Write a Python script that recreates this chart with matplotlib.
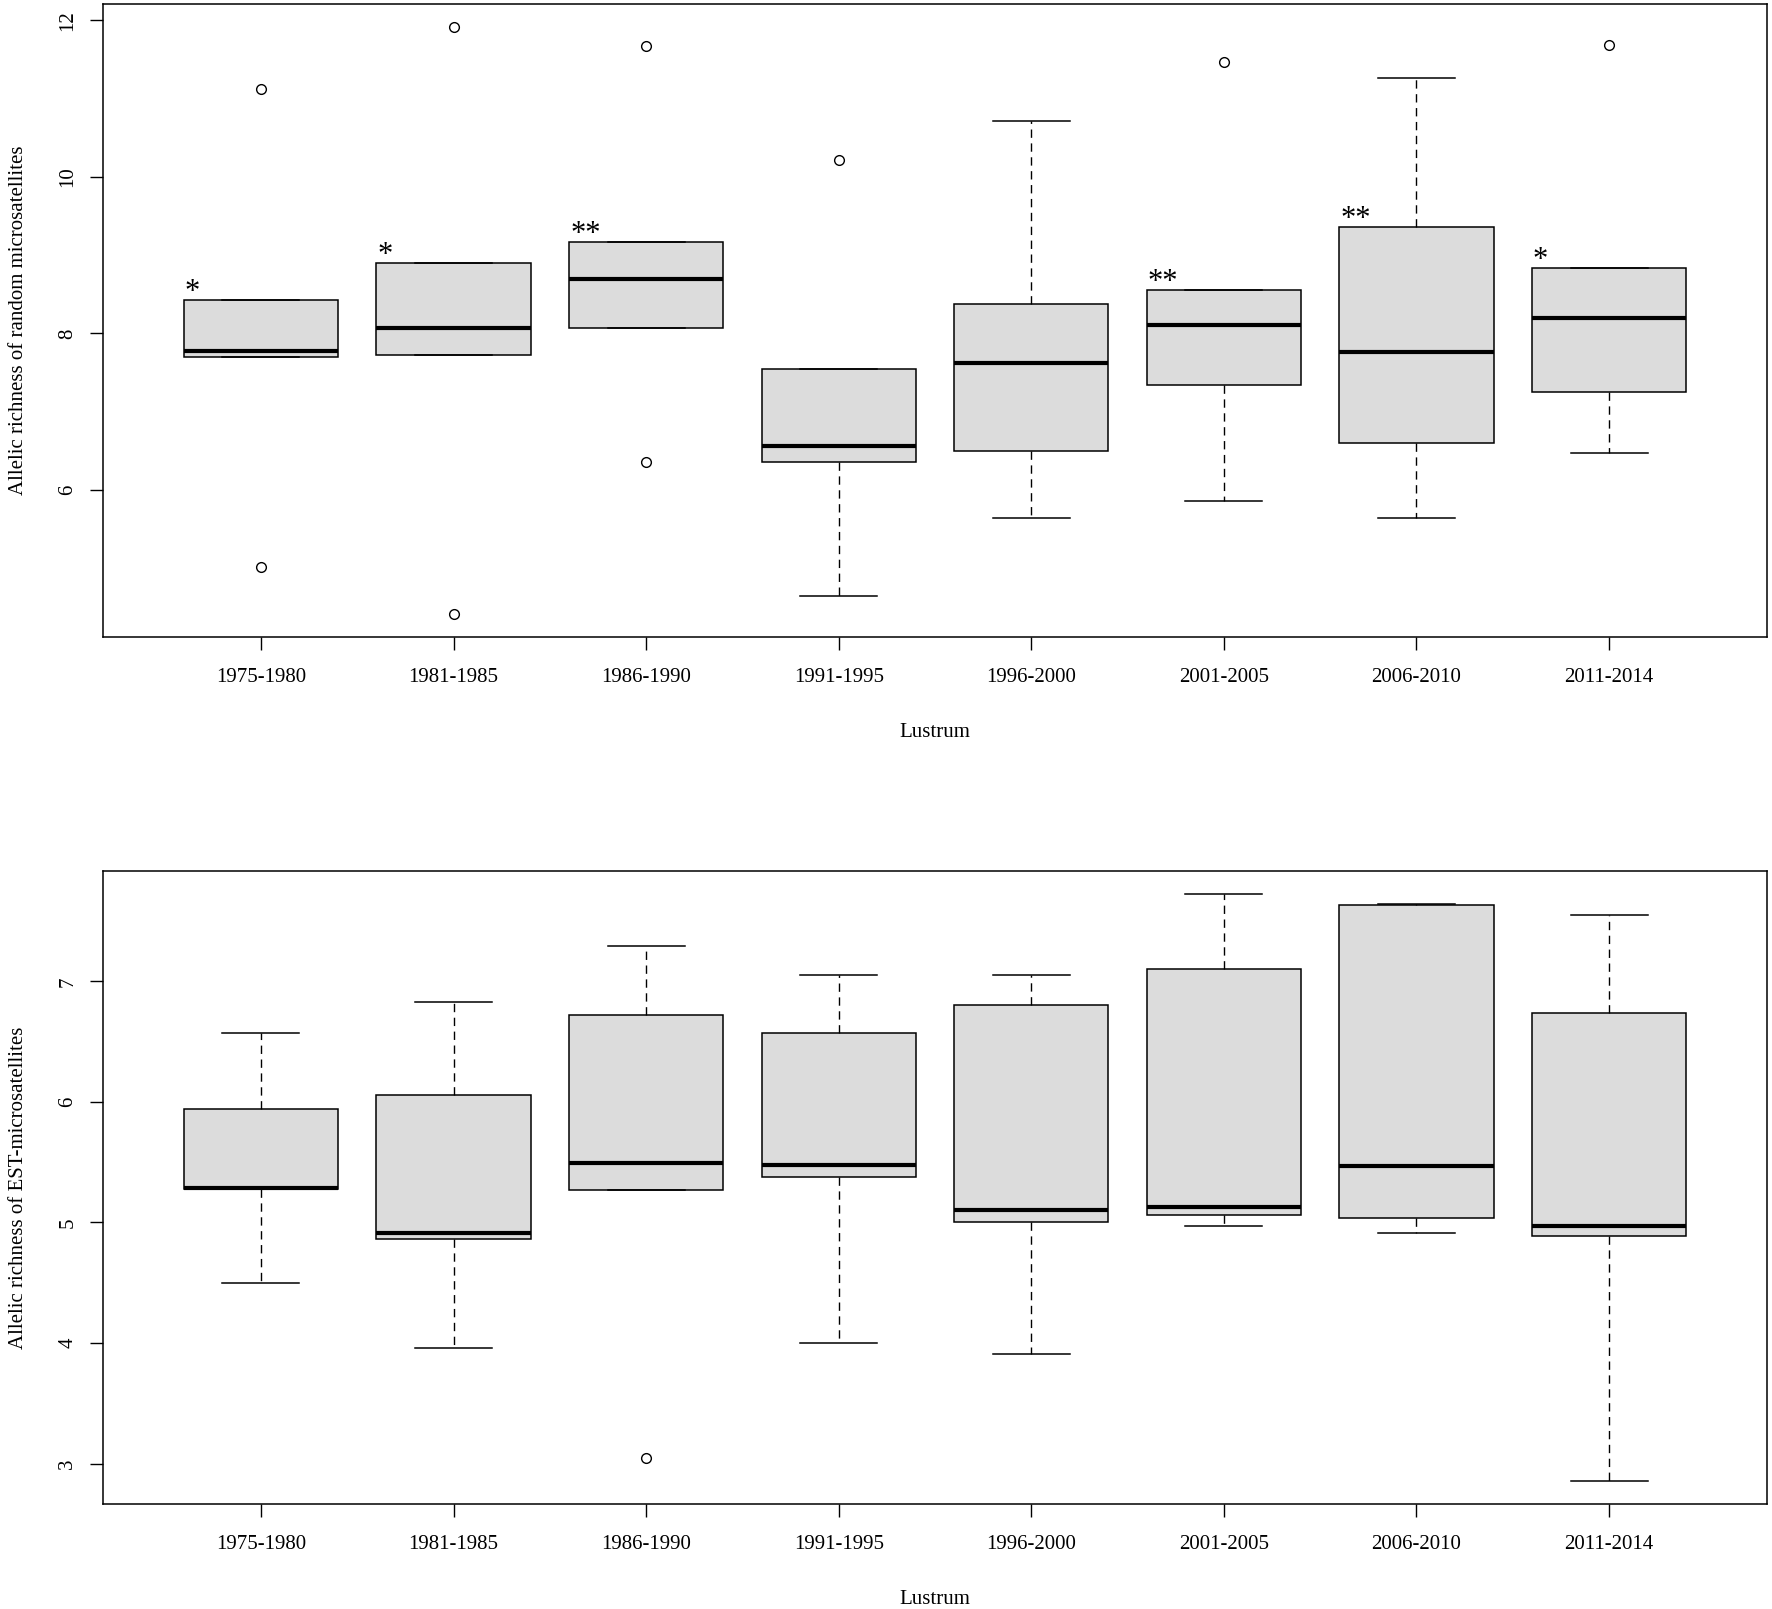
import matplotlib
matplotlib.use("Agg")
import matplotlib.pyplot as plt

plt.rcParams['font.family'] = ['Liberation Serif', 'DejaVu Serif']

categories = ["1975-1980", "1981-1985", "1986-1990", "1991-1995",
              "1996-2000", "2001-2005", "2006-2010", "2011-2014"]

# Top panel: allelic richness of random microsatellites
top_q1 = [7.70, 7.73, 8.07, 6.36, 6.50, 7.34, 6.60, 7.25]
top_med = [7.77, 8.07, 8.70, 6.56, 7.62, 8.11, 7.76, 8.20]
top_q3 = [8.43, 8.90, 9.17, 7.54, 8.38, 8.55, 9.36, 8.84]
top_wlo = [7.70, 7.73, 8.07, 4.65, 5.64, 5.86, 5.64, 6.47]
top_whi = [8.43, 8.90, 9.17, 7.54, 10.72, 8.55, 11.27, 8.84]
top_out = [[11.12, 5.01], [11.91, 4.42], [11.67, 6.36], [10.21],
           [], [11.47], [], [11.68]]
top_sig = ["*", "*", "**", "", "", "**", "**", "*"]

# Bottom panel: allelic richness of EST-microsatellites
bot_q1 = [5.28, 4.86, 5.27, 5.38, 5.00, 5.06, 5.04, 4.89]
bot_med = [5.29, 4.91, 5.49, 5.48, 5.10, 5.13, 5.47, 4.97]
bot_q3 = [5.945, 6.06, 6.72, 6.57, 6.80, 7.10, 7.63, 6.74]
bot_wlo = [4.50, 3.96, 5.27, 4.00, 3.91, 4.97, 4.91, 2.86]
bot_whi = [6.57, 6.83, 7.29, 7.05, 7.05, 7.72, 7.64, 7.55]
bot_out = [[], [], [3.05], [], [], [], [], []]

top_ylabel = "Allelic richness of random microsatellites"
bot_ylabel = "Allelic richness of EST-microsatellites"
xlabel = "Lustrum"
top_yticks = [6, 8, 10, 12]
bot_yticks = [3, 4, 5, 6, 7]

W, H = 1772, 1609
fig = plt.figure(figsize=(W / 100, H / 100), dpi=100)

def px_axes(left, right, top, bottom):
    return fig.add_axes([left / W, 1 - bottom / H, (right - left) / W, (bottom - top) / H])

ax1 = px_axes(103, 1767, 4, 637)
ax2 = px_axes(103, 1767, 871, 1504)

FS = 15

def draw(ax, q1, med, q3, wlo, whi, out, yticks, ylabel, sig=None):
    stats = []
    for i in range(len(categories)):
        stats.append(dict(q1=q1[i], med=med[i], q3=q3[i], whislo=wlo[i],
                          whishi=whi[i], fliers=out[i], label=categories[i]))
    pos = list(range(1, len(categories) + 1))
    ax.bxp(stats, positions=pos, widths=0.8, capwidths=0.4, patch_artist=True,
           showfliers=True,
           boxprops=dict(facecolor="#DCDCDC", edgecolor="black", linewidth=1.1),
           medianprops=dict(color="black", linewidth=3.0, solid_capstyle="butt"),
           whiskerprops=dict(color="black", linewidth=1.0, linestyle=(0, (6, 4))),
           capprops=dict(color="black", linewidth=1.1),
           flierprops=dict(marker="o", markerfacecolor="none", markeredgecolor="black",
                           markersize=7, markeredgewidth=1.0, linestyle="none"))
    # R-style axis limits (4% expansion)
    allv = []
    for i in range(len(categories)):
        allv += [wlo[i], whi[i]] + list(out[i])
    lo, hi = min(allv), max(allv)
    pad = 0.04 * (hi - lo)
    ax.set_ylim(lo - pad, hi + pad)
    xl, xh = 0.5, len(categories) + 0.5
    xp = 0.04 * (xh - xl)
    ax.set_xlim(xl - xp, xh + xp)
    ax.set_xticks(pos)
    ax.set_xticklabels(categories, fontsize=FS)
    ax.set_yticks(yticks)
    ax.set_yticklabels([str(t) for t in yticks], fontsize=FS, rotation=90, va="center")
    ax.tick_params(axis="both", direction="out", length=9.5, width=1.0, pad=9)
    ax.tick_params(axis="x", pad=12.5)
    for s in ax.spines.values():
        s.set_linewidth(1.1)
    ax.set_ylabel(ylabel, fontsize=FS)
    ax.yaxis.set_label_coords(-0.045, 0.5)
    ax.set_xlabel(xlabel, fontsize=FS)
    ax.xaxis.set_label_coords(0.5, -0.136)
    if sig:
        for i, s in enumerate(sig):
            if s:
                ax.text(pos[i] - 0.395, q3[i], s, fontsize=22, ha="left", va="baseline")

draw(ax1, top_q1, top_med, top_q3, top_wlo, top_whi, top_out, top_yticks, top_ylabel, top_sig)
draw(ax2, bot_q1, bot_med, bot_q3, bot_wlo, bot_whi, bot_out, bot_yticks, bot_ylabel)

fig.savefig("out.png", dpi=100)
